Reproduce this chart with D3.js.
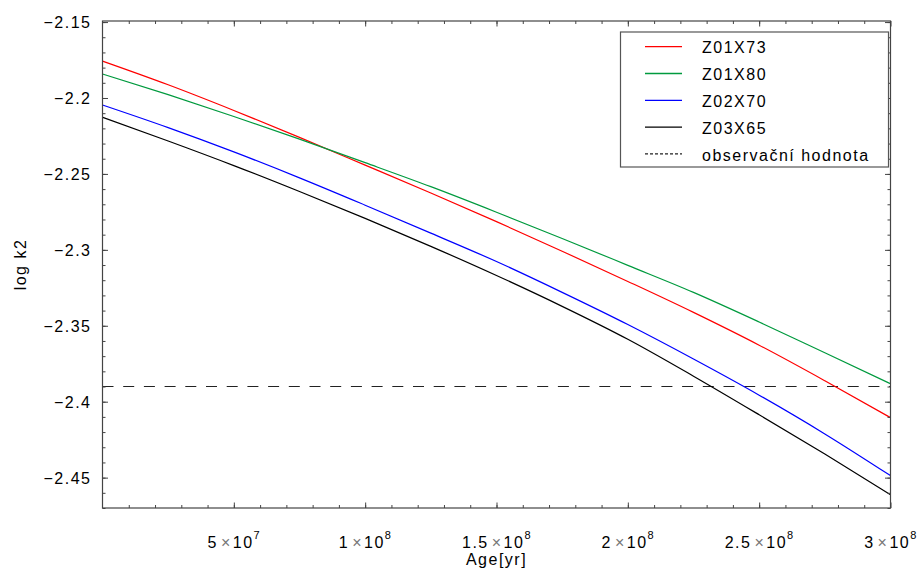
<!DOCTYPE html>
<html>
<head>
<meta charset="utf-8">
<script src="https://cdn.jsdelivr.net/npm/d3@7"></script>
<style>
	body { margin: 0; background: #fff; }
	text { font-family: 'Liberation Sans', Arial, sans-serif; font-size: 16px; letter-spacing: 1.5px; fill: #000; }
	.tick line { stroke: #444; }
</style>
</head>
<body>
<div id="chart"></div>
<script>
// age in years
var ages = [0, 2.5e7, 5e7, 7.5e7, 1e8, 1.25e8, 1.5e8, 1.75e8, 2e8, 2.25e8, 2.5e8, 2.75e8, 3e8];

// log k2 for each model
var z01x73 = [-2.1757, -2.1913, -2.2082, -2.2259, -2.2442, -2.2626, -2.2814, -2.3009, -2.3208, -2.3412, -2.3628, -2.3862, -2.4105];
var z01x80 = [-2.1842, -2.1978, -2.2122, -2.2271, -2.2426, -2.2584, -2.2752, -2.2925, -2.3102, -2.3280, -2.3475, -2.3678, -2.3882];
var z02x70 = [-2.2046, -2.2195, -2.2355, -2.2526, -2.2706, -2.2890, -2.3077, -2.3280, -2.3492, -2.3719, -2.3957, -2.4212, -2.4487];
var z03x65 = [-2.2127, -2.2283, -2.2445, -2.2616, -2.2793, -2.2977, -2.3169, -2.3372, -2.3589, -2.3832, -2.4086, -2.4345, -2.4612];

var seriesNames = ['Z01X73', 'Z01X80', 'Z02X70', 'Z03X65'];
var seriesValues = [z01x73, z01x80, z02x70, z03x65];
var seriesColors = ['#ff0000', '#009a3e', '#0000ff', '#000000'];

var observedName = 'observační hodnota';
var observed = -2.39;

var xMajorTicks = [5e7, 1e8, 1.5e8, 2e8, 2.5e8, 3e8];
var xTickMantissa = ['5', '1', '1.5', '2', '2.5', '3'];
var xTickExponent = ['7', '8', '8', '8', '8', '8'];
var xMinorTicks = d3.range(1, 30).map(function (d) { return d * 1e7; });

var yMajorTicks = [-2.45, -2.4, -2.35, -2.3, -2.25, -2.2, -2.15];
var yTickLabels = ['\u22122.45', '\u22122.4', '\u22122.35', '\u22122.3', '\u22122.25', '\u22122.2', '\u22122.15'];
var yMinorTicks = d3.range(-247, -214).map(function (d) { return d / 100; });

var chart = {
	container: '#chart',
	svgWidth: 922,
	svgHeight: 572,
	margin: { left: 102.5, top: 21 },
	width: 788,
	height: 487
};

var svg, g, xScale, yScale;

function createChart() {

	svg = d3.select(chart.container)
		.append('svg')
		.attr('width', chart.svgWidth)
		.attr('height', chart.svgHeight);

	g = svg.append('g')
		.attr('transform', 'translate(' + chart.margin.left + ',' + chart.margin.top + ')');

	xScale = d3.scaleLinear()
		.domain([0, 3e8])
		.range([0, chart.width]);

	yScale = d3.scaleLinear()
		.domain([-2.47, -2.1493])
		.range([chart.height, 0]);

	g.append('clipPath')
		.attr('id', 'plot-clip')
		.append('rect')
		.attr('width', chart.width)
		.attr('height', chart.height);
}

function drawAxes() {
	// frame ticks point inwards on all four sides
	var sides = [
		{ axis: d3.axisBottom, scale: xScale, t: 'translate(0,' + chart.height + ')', minor: xMinorTicks, major: xMajorTicks },
		{ axis: d3.axisTop, scale: xScale, t: 'translate(0,0)', minor: xMinorTicks, major: xMajorTicks },
		{ axis: d3.axisLeft, scale: yScale, t: 'translate(0,0)', minor: yMinorTicks, major: yMajorTicks },
		{ axis: d3.axisRight, scale: yScale, t: 'translate(' + chart.width + ',0)', minor: yMinorTicks, major: yMajorTicks }
	];

	sides.forEach(function (s, i) {
		var minorAxis = s.axis(s.scale).tickValues(s.minor).tickSize(-3).tickFormat('');
		var majorAxis = s.axis(s.scale).tickValues(s.major).tickSize(-5.5).tickFormat('');

		var gm = g.append('g').attr('class', 'minor-' + i).attr('transform', s.t).call(minorAxis);
		var gM = g.append('g').attr('class', 'major-' + i).attr('transform', s.t).call(majorAxis);
		gm.select('.domain').remove();
		gM.select('.domain').remove();
	});

	g.append('rect')
		.attr('class', 'frame')
		.attr('width', chart.width)
		.attr('height', chart.height)
		.attr('fill', 'none')
		.style('stroke', '#444')
		.style('stroke-width', 1.2);

	// x tick labels: m × 10^e
	g.select('.major-0').selectAll('.tick').each(function (d, i) {
		var txt = d3.select(this).append('text')
			.attr('y', 40)
			.attr('text-anchor', 'middle')
			.style('fill', '#000');
		txt.append('tspan').text(xTickMantissa[i]);
		txt.append('tspan').attr('dx', 3).style('fill', '#777').text('\u00d7');
		txt.append('tspan').attr('dx', 1).text('10');
		txt.append('tspan').attr('dy', -9).style('font-size', '11px').text(xTickExponent[i]);
	});

	g.select('.major-2').selectAll('.tick').each(function (d, i) {
		d3.select(this).append('text')
			.attr('x', -11)
			.attr('dy', '0.35em')
			.attr('text-anchor', 'end')
			.style('fill', '#000')
			.text(yTickLabels[i]);
	});

	svg.append('text')
		.attr('x', chart.margin.left + chart.width / 2)
		.attr('y', 565)
		.attr('text-anchor', 'middle')
		.text('Age[yr]');

	svg.append('text')
		.attr('transform', 'translate(26,' + (chart.margin.top + chart.height / 2) + ') rotate(-90)')
		.attr('text-anchor', 'middle')
		.text('log k2');
}

function drawLines() {
	var line = d3.line()
		.x(function (d) { return xScale(d[0]); })
		.y(function (d) { return yScale(d[1]); })
		.curve(d3.curveMonotoneX);

	var plot = g.append('g').attr('clip-path', 'url(#plot-clip)');

	plot.append('line')
		.attr('class', 'observed')
		.attr('x1', 0)
		.attr('x2', chart.width)
		.attr('y1', yScale(observed))
		.attr('y2', yScale(observed))
		.style('stroke', '#222')
		.style('stroke-width', 1.2)
		.style('stroke-dasharray', '11,9.7');

	seriesValues.forEach(function (vals, i) {
		plot.append('path')
			.datum(ages.map(function (a, j) { return [a, vals[j]]; }))
			.attr('fill', 'none')
			.style('stroke', seriesColors[i])
			.style('stroke-width', 1.2)
			.attr('d', line);
	});
}

function drawLegend() {
	var legend = svg.append('g').attr('class', 'legend');

	legend.append('rect')
		.attr('x', 620.5)
		.attr('y', 32)
		.attr('width', 268)
		.attr('height', 135)
		.attr('fill', '#fff')
		.style('stroke', '#555')
		.style('stroke-width', 1.2);

	var rows = seriesNames.map(function (n, i) { return { name: n, color: seriesColors[i], dash: null }; });
	rows.push({ name: observedName, color: '#222', dash: '3,2' });

	rows.forEach(function (r, i) {
		var y = 46.7 + i * 26.8;
		legend.append('line')
			.attr('x1', 645)
			.attr('x2', 682)
			.attr('y1', y)
			.attr('y2', y)
			.style('stroke', r.color)
			.style('stroke-width', 1.3)
			.style('stroke-dasharray', r.dash);
		legend.append('text')
			.attr('x', 702)
			.attr('y', y + 6.6)
			.text(r.name);
	});
}

createChart();
drawLines();
drawAxes();
drawLegend();
</script>
</body>
</html>
